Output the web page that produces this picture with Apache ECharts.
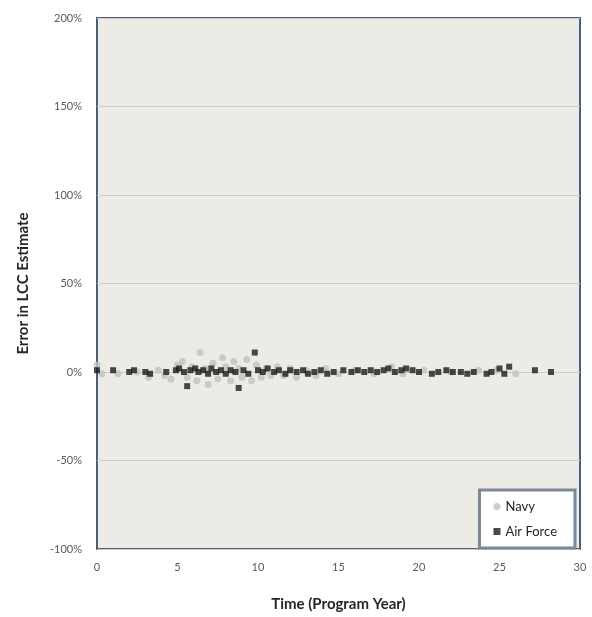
<!DOCTYPE html>
<html>
<head>
<meta charset="utf-8">
<script src="https://cdn.jsdelivr.net/npm/echarts@6/dist/echarts.min.js"></script>
<style>
  html, body { margin: 0; padding: 0; background: #ffffff; }
  #chart { width: 592px; height: 617px; }
</style>
</head>
<body>
<div id="chart"></div>
<script>
// Program year vs. percent error in life-cycle cost estimate
const navyYears = [0.0, 0.3, 1.3, 2.5, 3.2, 3.8, 4.2, 4.6, 5.0, 5.3, 5.6, 5.9, 6.2, 6.4, 6.7, 6.9, 7.2, 7.5, 7.8, 8.0, 8.3, 8.5, 8.8, 9.0, 9.3, 9.6, 9.9, 10.2, 10.5, 10.8, 11.2, 11.6, 12.0, 12.4, 13.0, 13.6, 14.2, 15.0, 16.0, 17.2, 18.3, 19.0, 20.3, 22.0, 23.7, 24.8, 26.0];
const navyErrors = [4, -1, -1, 0, -3, 1, -2, -4, 4, 6, -3, 3, -5, 11, 2, -7, 5, -4, 8, 3, -5, 6, 2, -3, 7, -5, 4, -3, 2, -2, 3, -2, 2, -3, 1, -2, 2, -1, 1, -1, 3, -1, 1, 0, 1, 1, -1];

const airForceYears = [0.0, 1.0, 2.0, 2.3, 3.0, 3.3, 4.3, 4.9, 5.1, 5.4, 5.6, 5.8, 6.1, 6.3, 6.6, 6.9, 7.1, 7.4, 7.7, 8.0, 8.3, 8.6, 8.8, 9.1, 9.4, 9.8, 10.0, 10.3, 10.6, 11.0, 11.3, 11.7, 12.0, 12.4, 12.8, 13.1, 13.5, 13.9, 14.3, 14.7, 15.3, 15.8, 16.2, 16.6, 17.0, 17.4, 17.8, 18.1, 18.5, 18.9, 19.2, 19.6, 20.0, 20.8, 21.2, 21.7, 22.1, 22.6, 23.0, 23.4, 24.2, 24.5, 25.0, 25.3, 25.6, 27.2, 28.2];
const airForceErrors = [1, 1, 0, 1, 0, -1, 0, 1, 2, 0, -8, 1, 2, 0, 1, -1, 2, 0, 1, -1, 1, 0, -9, 1, -1, 11, 1, 0, 2, 0, 1, -1, 1, 0, 1, -1, 0, 1, -1, 0, 1, 0, 1, 0, 1, 0, 1, 2, 0, 1, 2, 1, 0, -1, 0, 1, 0, 0, -1, 0, -1, 0, 2, -1, 3, 1, 0];

const xTicks = [0, 5, 10, 15, 20, 25, 30];
const yTicks = [-100, -50, 0, 50, 100, 150, 200];

const pair = (xs, ys) => xs.map((x, i) => [x, ys[i]]);

const labelStyle = { color: '#595959', fontSize: 11, fontFamily: 'Lato, "Open Sans", sans-serif' };

const chart = echarts.init(document.getElementById('chart'), null, { renderer: 'canvas' });
chart.setOption({
  backgroundColor: '#ffffff',
  animation: false,
  grid: {
    left: 97, right: 12, top: 18, bottom: 67,
    show: true,
    backgroundColor: '#ecebe5',
    borderColor: '#4d5e78',
    borderWidth: 2
  },
  xAxis: {
    type: 'value',
    min: xTicks[0], max: xTicks[xTicks.length - 1], interval: 5,
    name: 'Time (Program Year)',
    nameLocation: 'middle',
    nameGap: 48,
    nameTextStyle: { fontSize: 15, fontWeight: 'bold', color: '#262626', fontFamily: 'Lato, "Open Sans", sans-serif' },
    axisLine: { show: false },
    axisTick: { show: false },
    splitLine: { show: false },
    axisLabel: Object.assign({ margin: 13 }, labelStyle)
  },
  yAxis: {
    type: 'value',
    min: yTicks[0], max: yTicks[yTicks.length - 1], interval: 50,
    name: 'Error in LCC Estimate',
    nameLocation: 'middle',
    nameGap: 66,
    nameTextStyle: { fontSize: 15, fontWeight: 'bold', color: '#262626', fontFamily: 'Lato, "Open Sans", sans-serif' },
    axisLine: { show: false },
    axisTick: { show: false },
    splitLine: { show: true, lineStyle: { color: '#cfcdc6', width: 1 } },
    axisLabel: Object.assign({ margin: 15, formatter: '{value}%' }, labelStyle)
  },
  legend: {
    orient: 'vertical',
    right: 17, bottom: 69,
    backgroundColor: '#ffffff',
    borderColor: '#7d889a',
    borderWidth: 3,
    padding: [10, 18, 10, 14],
    itemGap: 12,
    itemWidth: 7, itemHeight: 7,
    textStyle: { fontSize: 13, color: '#262626', fontFamily: 'Lato, "Open Sans", sans-serif' },
    data: [
      { name: 'Navy', icon: 'circle' },
      { name: 'Air Force', icon: 'rect' }
    ]
  },
  series: [
    {
      name: 'Navy',
      type: 'scatter',
      symbol: 'circle',
      symbolSize: 7,
      itemStyle: { color: '#c2c2c2' },
      data: pair(navyYears, navyErrors)
    },
    {
      name: 'Air Force',
      type: 'scatter',
      symbol: 'rect',
      symbolSize: 6,
      itemStyle: { color: '#1c1c1c' },
      data: pair(airForceYears, airForceErrors)
    }
  ]
});
</script>
</body>
</html>
